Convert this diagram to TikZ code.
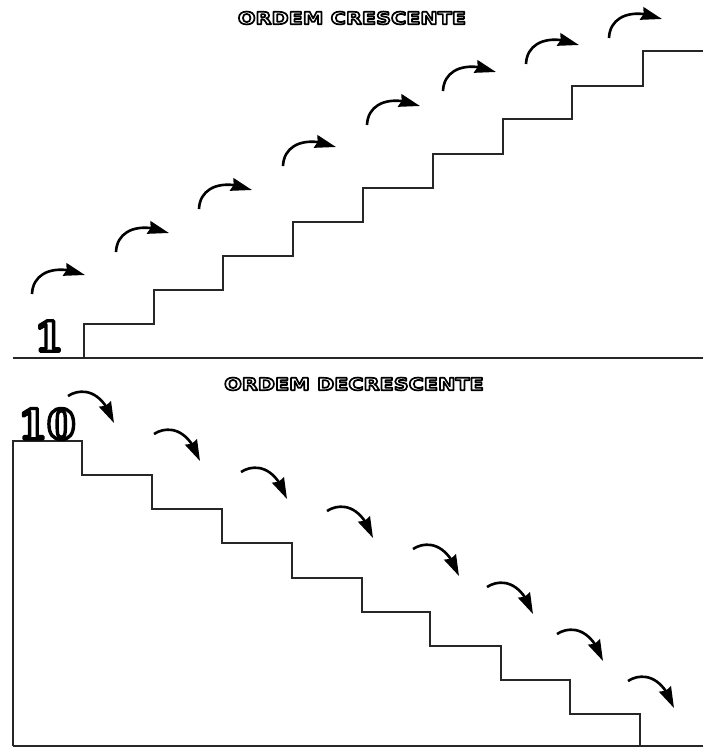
\documentclass[tikz,border=0pt]{standalone}
\usepackage{fontspec}
\usetikzlibrary{arrows.meta,bending}
\newfontfamily\headfont{DejaVu Sans}[UprightFont=* Bold, FakeStretch=1.22]
\newfontfamily\numfont{DejaVu Serif}[UprightFont=* Bold]
% outlined (white fill, black stroke) text: #1 stroke width, #2 text
\newcommand\outlinetext[2]{\special{pdf:literal direct 0 G 1 g #1 w 1 j 2 Tr}#2\special{pdf:literal direct 0 Tr 0 g 0 G 0.4 w}}
\begin{document}
\begin{tikzpicture}[x=1pt,y=-1pt,
  stair/.style={line width=2.4pt, line join=miter, black!85},
  jump/.style={line width=2.6pt, -{Stealth[length=21pt,width=13pt,inset=2pt,flex]}},
  title/.style={inner sep=0pt, font=\headfont\fontsize{17}{17}\selectfont},
  numeral/.style={inner sep=0pt, font=\numfont\fontsize{41}{41}\selectfont}]
\useasboundingbox (0,0) rectangle (703,748);
\fill[white] (0,0) rectangle (703,748);

% ---------- top: ordem crescente ----------
\node[title] (tcres) at (352,18) {\outlinetext{1.7}{ORDEM CRESCENTE}};
\draw[stair] (13,358) -- (703,358);
\draw[stair] (84,358) -- (84,324) -- (154,324) -- (154,290) -- (223,290) -- (223,256)
  -- (293,256) -- (293,222) -- (363,222) -- (363,188) -- (433,188) -- (433,154)
  -- (503,154) -- (503,119) -- (572,119) -- (572,86) -- (643,86) -- (643,51) -- (703,51);
\node[numeral] (one) at (49,336) {\outlinetext{3.4}{1}};
\foreach \x/\y [count=\i] in {32/294,116/252,199/209,283/166,367/125,443/91,526/64,609/38}{
  \coordinate (us\i) at (\x,\y);
  \coordinate (ut\i) at (\x+53,\y-19);
  \draw[jump] (us\i) .. controls (\x+1,\y-24) and (\x+27,\y-30) .. (ut\i);
}

% ---------- bottom: ordem decrescente ----------
\node[title] (tdec) at (354,384) {\outlinetext{1.7}{ORDEM DECRESCENTE}};
\draw[stair] (13,746) -- (703,746);
\draw[stair] (13,746) -- (13,441) -- (82,441) -- (82,475) -- (152,475) -- (152,509)
  -- (222,509) -- (222,543) -- (292,543) -- (292,578) -- (362,578) -- (362,612)
  -- (430,612) -- (430,646) -- (501,646) -- (501,680) -- (570,680) -- (570,714)
  -- (640,714) -- (640,746);
\node[numeral] (ten) at (47,424) {\outlinetext{3.4}{10}};
\foreach \x/\y [count=\i] in {68/396,154/434,241/472,327/511,413/549,487/587,557/634,628/681}{
  \coordinate (ds\i) at (\x,\y);
  \coordinate (dt\i) at (\x+46,\y+27);
  \draw[jump] (ds\i) .. controls (\x+12,\y-8) and (\x+34,\y-8) .. (dt\i);
}
\end{tikzpicture}
\end{document}
